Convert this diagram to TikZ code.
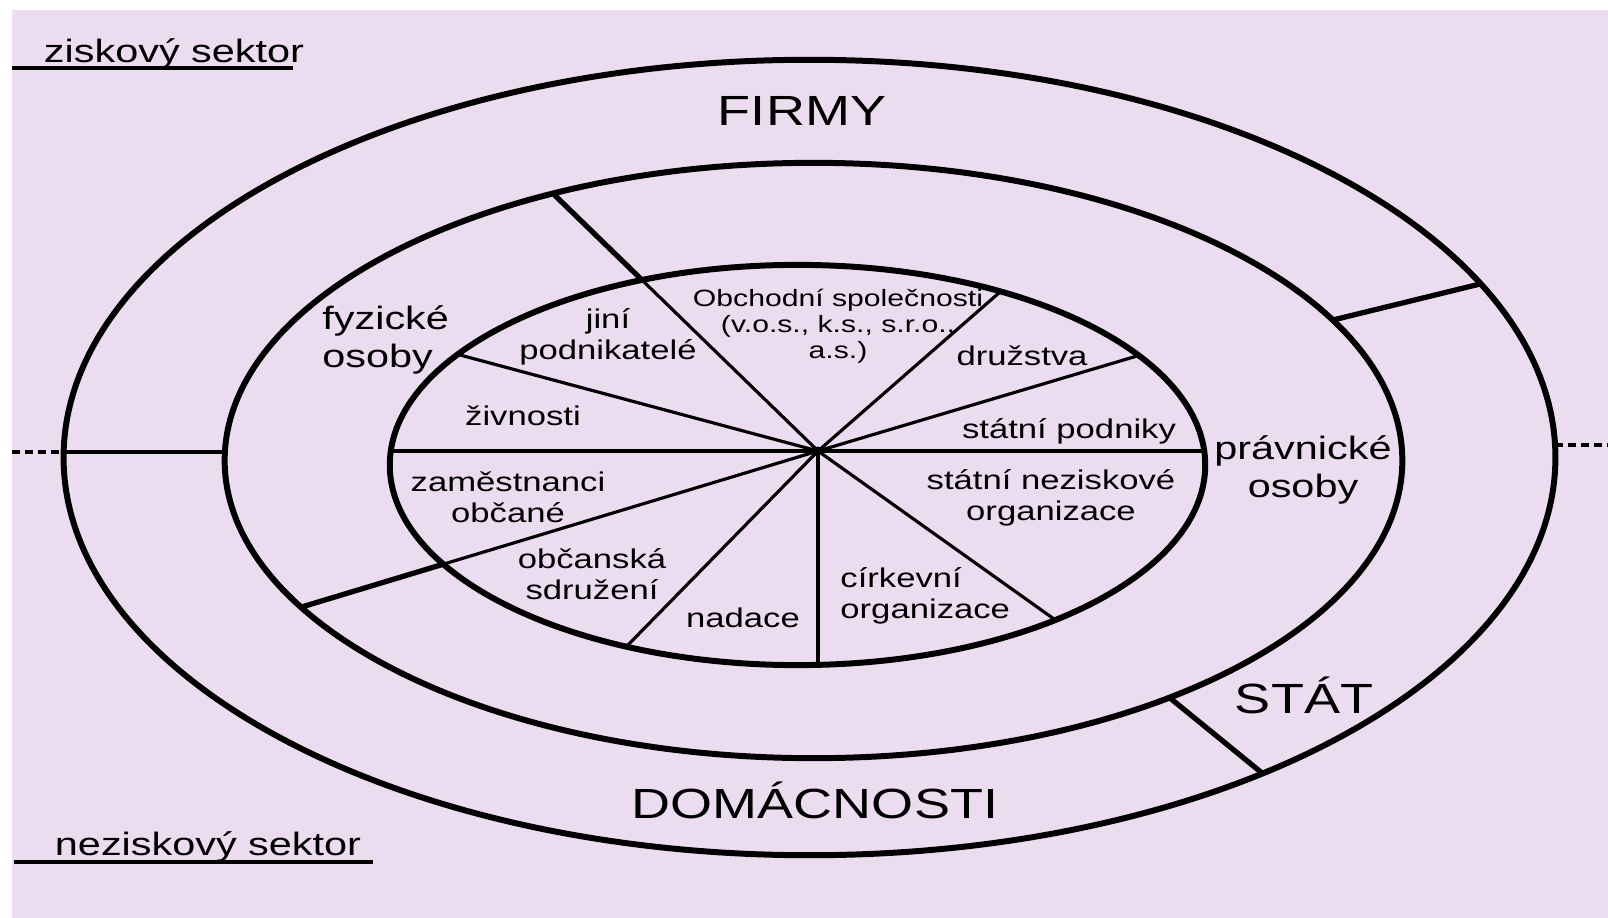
\documentclass[tikz,border=0pt]{standalone}
\usepackage{fontspec}
\setmainfont{Liberation Sans}[FakeStretch=1.28]
\usetikzlibrary{calc}
\definecolor{SectorLilac}{RGB}{236,220,240}

\begin{document}
\begin{tikzpicture}[x=0.01cm, y=-0.01cm,
  ring/.style={line width=1.7pt},
  spoke/.style={line width=0.9pt},
  cut/.style={line width=1.5pt},
  sectordash/.style={line width=1pt, dash pattern=on 2.3pt off 1.4pt},
  big/.style={font=\fontsize{12}{14}\selectfont},
  mid/.style={font=\fontsize{9.2}{10.8}\selectfont, align=center},
  small/.style={font=\fontsize{7.7}{8.8}\selectfont, align=center},
  tiny/.style={font=\fontsize{6.7}{7.4}\selectfont, align=center}]
  \useasboundingbox (0,0) rectangle (1608,918);
  \fill[white] (0,0) rectangle (1608,918);
  \fill[SectorLilac] (12,10) rectangle (1608,918);

  \draw[ring] (809.5,457.5) ellipse [x radius=7.455cm, y radius=3.975cm];
  \draw[ring] (813.5,460.5) ellipse [x radius=5.885cm, y radius=2.975cm];
  \draw[ring] (797.5,465) ellipse [x radius=4.075cm, y radius=2cm];

  \coordinate (hub) at (818,451);
  \coordinate (i0) at (391,451);
  \coordinate (i1) at (460,355);
  \coordinate (i2) at (642,280);
  \coordinate (i3) at (1000,292);
  \coordinate (i4) at (1137,356);
  \coordinate (i5) at (1204,451);
  \coordinate (i6) at (1054,619);
  \coordinate (i7) at (818,665);
  \coordinate (i8) at (627,646);
  \coordinate (i9) at (444,564);
  \foreach \k in {0,...,9}
    \draw[spoke] (hub) -- (i\k);
  \fill (hub) circle [radius=0.045cm];

  \coordinate (m2) at ($(hub)!1.504!(i2)$);
  \coordinate (m9) at ($(hub)!1.382!(i9)$);
  \draw[cut] (i2) -- (m2);
  \draw[cut] (i9) -- (m9);

  \coordinate (eW) at (12,452);
  \coordinate (oW) at (64,452);
  \coordinate (mW) at (225,452);
  \draw[spoke] (oW) -- (mW);
  \draw[sectordash] (eW) -- (oW);
  \coordinate (oE) at (1555,445);
  \coordinate (eE) at (1608,445);
  \draw[sectordash] (oE) -- (eE);
  \coordinate (mNE) at (1333,320);
  \coordinate (oNE) at (1480,284);
  \draw[cut] (mNE) -- (oNE);
  \coordinate (mSE) at (1170,698);
  \coordinate (oSE) at (1262,773);
  \draw[cut] (mSE) -- (oSE);

  \node[mid, anchor=base] (zisk) at (174,62) {ziskový sektor};
  \coordinate (zs0) at (12,68);
  \coordinate (zs1) at (293,68);
  \draw[spoke] (zs0) -- (zs1);
  \node[mid, anchor=base] (nezisk) at (208,855) {neziskový sektor};
  \coordinate (ns0) at (14,862);
  \coordinate (ns1) at (373,862);
  \draw[spoke] (ns0) -- (ns1);

  \node[big, anchor=base] (firmy) at (802,125) {FIRMY};
  \node[big, anchor=base] (domac) at (815,818) {DOMÁCNOSTI};
  \node[big, anchor=base] (stat) at (1304,713) {STÁT};

  \node[mid, align=left, anchor=west] (fyz) at (310,340) {fyzické\\osoby};
  \node[mid] (prav) at (1303,470) {právnické\\osoby};

  \node[small] (jini) at (608,337) {jiní\\podnikatelé};
  \node[tiny] (obch) at (838,326) {Obchodní společnosti\\(v.o.s., k.s., s.r.o.,\\a.s.)};
  \node[small, anchor=base] (druz) at (1022,365) {družstva};
  \node[small, anchor=base] (stpod) at (1069,438) {státní podniky};
  \node[small, anchor=base] (zivn) at (523,425) {živnosti};
  \node[small] (zam) at (508,497) {zaměstnanci\\občané};
  \node[small] (obsdr) at (592,574) {občanská\\sdružení};
  \node[small, anchor=base] (nad) at (743,627) {nadace};
  \node[small, align=left, anchor=west] (cirk) at (828,596) {církevní\\organizace};
  \node[small] (stnez) at (1051,498) {státní neziskové\\organizace};
\end{tikzpicture}
\end{document}
